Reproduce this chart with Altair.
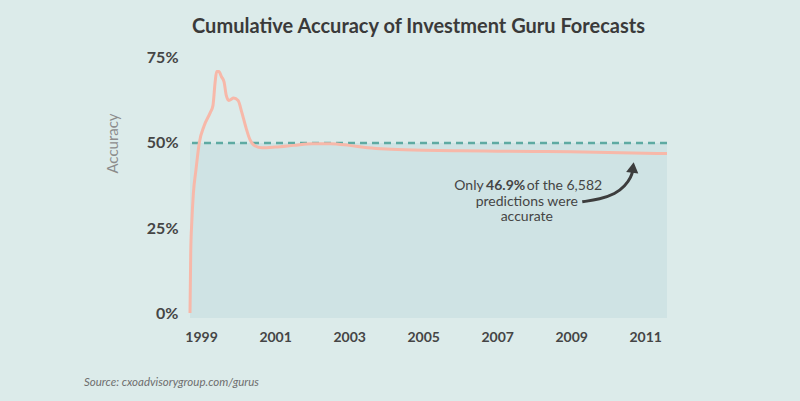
import altair as alt
import pandas as pd

# Cumulative accuracy series (year as decimal, accuracy %)
years = [1998.70, 1998.72, 1998.75, 1998.79, 1998.86, 1998.95, 1999.08, 1999.25,
         1999.32, 1999.38, 1999.42, 1999.48, 1999.55, 1999.62, 1999.68, 1999.75,
         1999.88, 2000.00, 2000.10, 2000.20, 2000.32, 2000.45, 2000.65, 2001.00,
         2001.50, 2002.00, 2002.50, 2003.00, 2003.50, 2004.00, 2005.00, 2006.00,
         2007.00, 2008.00, 2009.00, 2010.00, 2011.00, 2011.59]
accuracy = [0.0, 18.0, 27.0, 35.0, 42.0, 50.0, 55.0, 59.0,
            61.0, 68.0, 71.0, 71.0, 69.5, 68.0, 64.0, 62.5,
            63.2, 62.5, 59.0, 55.0, 51.0, 49.2, 48.6, 48.8,
            49.3, 49.8, 49.8, 49.3, 48.6, 48.2, 47.9, 47.7,
            47.6, 47.5, 47.4, 47.2, 47.0, 46.9]

x_ticks = [1999, 2001, 2003, 2005, 2007, 2009, 2011]
y_ticks = [0, 25, 50, 75]
x_domain = [1998.70, 2011.59]
y_domain = [-1.47, 77.94]
baseline_pct = 50

# annotation arrow path (data coordinates)
arrow_x = [2009.30, 2009.78, 2010.19, 2010.46, 2010.62, 2010.67]
arrow_y = [32.7, 33.5, 35.0, 37.4, 40.0, 42.0]

df = pd.DataFrame({"year": years, "acc": accuracy})
arrow_df = pd.DataFrame({"year": arrow_x, "acc": arrow_y, "order": list(range(len(arrow_x)))})

xs = alt.Scale(domain=x_domain, nice=False, zero=False)
ys = alt.Scale(domain=y_domain, nice=False, zero=False)

FONT = "Lato"
DARK = "#454545"

x_axis = alt.Axis(values=x_ticks, format="d", title=None, grid=False, domain=False, ticks=False,
                  labelFont=FONT, labelFontWeight="bold", labelFontSize=14, labelColor=DARK,
                  labelPadding=12, labelFlush=False)
y_axis = alt.Axis(values=y_ticks, labelExpr="datum.value + '%'", title="Accuracy", grid=False,
                  domain=False, ticks=False, labelFont=FONT, labelFontWeight="bold",
                  labelFontSize=16, labelColor=DARK, labelPadding=12,
                  titleFont=FONT, titleFontWeight="normal", titleFontSize=15, titleColor="#8c8c8c",
                  titleAngle=-90, titleX=-70, titleY=95, titleAlign="center")

band = alt.Chart(pd.DataFrame({"x0": [x_domain[0]], "x1": [x_domain[1]],
                               "y0": [y_domain[0]], "y1": [baseline_pct]})).mark_rect(
    color="#cfe3e4").encode(
    x=alt.X("x0:Q", scale=xs, axis=x_axis), x2="x1:Q",
    y=alt.Y("y0:Q", scale=ys, axis=y_axis), y2="y1:Q")

dash = alt.Chart(pd.DataFrame({"y": [baseline_pct]})).mark_rule(
    color="#5eaaa2", strokeWidth=2.5, strokeDash=[7, 5]).encode(
    y=alt.Y("y:Q", scale=ys))

line = alt.Chart(df).mark_line(color="#f7b8a9", strokeWidth=3, interpolate="monotone").encode(
    x=alt.X("year:Q", scale=xs), y=alt.Y("acc:Q", scale=ys))

arrow = alt.Chart(arrow_df).mark_line(color="#3d3d3d", strokeWidth=3, interpolate="basis").encode(
    x=alt.X("year:Q", scale=xs), y=alt.Y("acc:Q", scale=ys), order="order:Q")

head = alt.Chart(pd.DataFrame({"year": [2010.67], "acc": [42.8]})).mark_point(
    shape="triangle-up", filled=True, size=150, color="#3d3d3d", opacity=1, angle=8).encode(
    x=alt.X("year:Q", scale=xs), y=alt.Y("acc:Q", scale=ys))

ann_common = dict(font=FONT, fontSize=14, color=DARK, baseline="middle")
ann_bold = alt.Chart(pd.DataFrame({"year": [2007.23], "acc": [37.44], "t": ["46.9%"]})).mark_text(
    align="center", fontWeight="bold", **ann_common).encode(
    x=alt.X("year:Q", scale=xs), y=alt.Y("acc:Q", scale=ys), text="t:N")
ann_left = alt.Chart(pd.DataFrame({"year": [2007.23], "acc": [37.44], "t": ["Only"]})).mark_text(
    align="right", dx=-22, **ann_common).encode(
    x=alt.X("year:Q", scale=xs), y=alt.Y("acc:Q", scale=ys), text="t:N")
ann_right = alt.Chart(pd.DataFrame({"year": [2007.23], "acc": [37.44], "t": ["of the 6,582"]})).mark_text(
    align="left", dx=21, **ann_common).encode(
    x=alt.X("year:Q", scale=xs), y=alt.Y("acc:Q", scale=ys), text="t:N")
ann_rest = alt.Chart(pd.DataFrame({"year": [2007.80, 2007.80], "acc": [32.7, 28.1],
                                   "t": ["predictions were", "accurate"]})).mark_text(
    align="center", **ann_common).encode(
    x=alt.X("year:Q", scale=xs), y=alt.Y("acc:Q", scale=ys), text="t:N")

source = alt.Chart(pd.DataFrame({"t": ["Source: cxoadvisorygroup.com/gurus"]})).mark_text(
    align="left", baseline="middle", font=FONT, fontSize=11.5, fontStyle="italic", color="#6e6e6e").encode(
    x=alt.value(-106), y=alt.value(335), text="t:N")

chart = alt.layer(band, dash, line, arrow, head, ann_left, ann_bold, ann_right, ann_rest, source).properties(
    width=477, height=270,
    autosize=alt.AutoSizeParams(type="none"),
    padding={"left": 190, "top": 48, "right": 133, "bottom": 83},
    background="#dcebea",
    title=alt.TitleParams("Cumulative Accuracy of Investment Guru Forecasts", anchor="middle",
                          frame="group", dx=-10, offset=11, font=FONT, fontSize=20,
                          fontWeight="bold", color="#3a3a3a"),
).configure_view(stroke=None)

chart.save("out.html", embed_options={"renderer": "svg", "actions": False})
